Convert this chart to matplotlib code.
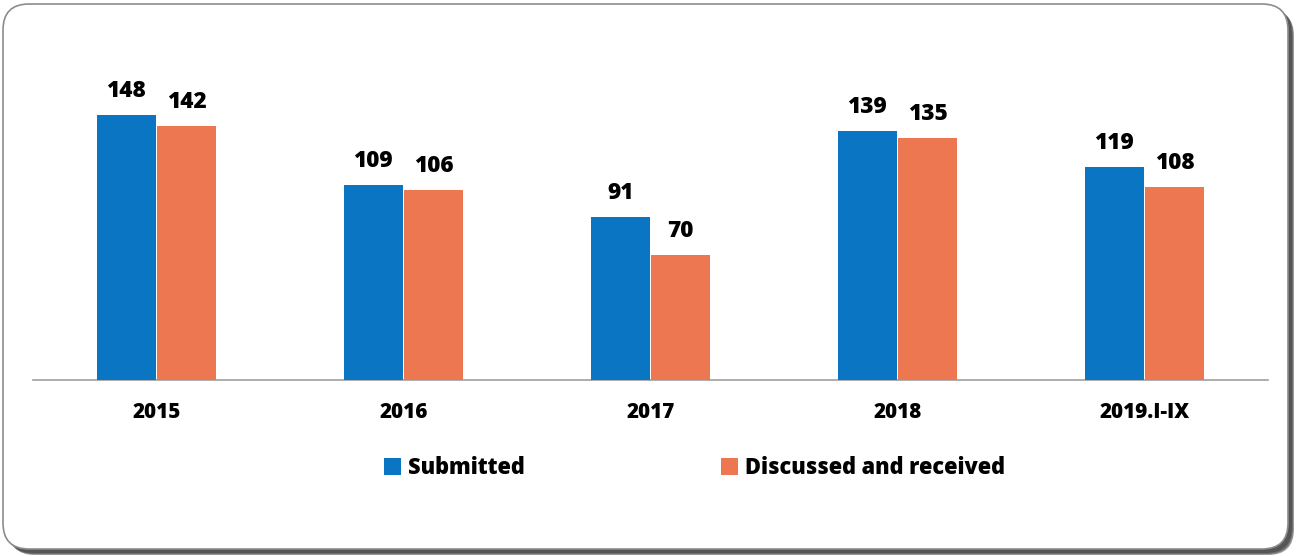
import matplotlib
matplotlib.use("Agg")
import matplotlib.pyplot as plt
import numpy as np
from matplotlib.patches import FancyBboxPatch

categories = ["2015", "2016", "2017", "2018", "2019.I-IX"]
submitted = [148, 109, 91, 139, 119]
discussed = [142, 106, 70, 135, 108]
series_names = ["Submitted", "Discussed and received"]
colors = ["#0A75C2", "#EC7750"]

plt.rcParams['font.family'] = ['Open Sans', 'DejaVu Sans']
W, H = 1296, 556
fig = plt.figure(figsize=(W / 100, H / 100), dpi=100)


def px(v):
    return v / 100.0


# frame with shadow (inch coordinates)
for off, col in [(6, "#9a9a9a"), (5, "#6e6e6e"), (4, "#555555")]:
    sh = FancyBboxPatch((px(3 + off), px(556 - 549 - off)), px(1285), px(545),
                        boxstyle=f"round,pad=0,rounding_size={px(26)}",
                        transform=fig.dpi_scale_trans, facecolor=col,
                        edgecolor="none", zorder=0)
    fig.patches.append(sh)
frame = FancyBboxPatch((px(3), px(556 - 549)), px(1285), px(545),
                       boxstyle=f"round,pad=0,rounding_size={px(26)}",
                       transform=fig.dpi_scale_trans, facecolor="white",
                       edgecolor="#8c8c8c", linewidth=1.2, zorder=1)
fig.patches.append(frame)

ax_left, ax_right = 33, 1268
ax_bottom, ax_top = 380, 30
ax = fig.add_axes([ax_left / W, (H - ax_bottom) / H, (ax_right - ax_left) / W,
                   (ax_bottom - ax_top) / H])
ax.set_facecolor("none")
ax.set_zorder(2)

x = np.arange(len(categories))
bw = 0.24
b1 = ax.bar(x - bw / 2 - 0.002, submitted, bw, color=colors[0], label=series_names[0], zorder=3)
b2 = ax.bar(x + bw / 2 + 0.002, discussed, bw, color=colors[1], label=series_names[1], zorder=3)

for bars in (b1, b2):
    for r in bars:
        ax.annotate(f"{int(r.get_height())}", (r.get_x() + r.get_width() / 2, r.get_height()),
                    xytext=(0, 8.5), textcoords="offset points", ha="center", va="bottom",
                    fontsize=16.3, fontweight="heavy", color="black")

ax.set_xlim(-0.5, len(categories) - 0.5)
ax.set_ylim(0, 350 / 1.7905)
ax.set_xticks(x)
ax.set_xticklabels(categories, fontsize=14.9, fontweight="heavy")
ax.tick_params(axis="x", length=0, pad=16)
ax.set_yticks([])
for s in ["top", "right", "left"]:
    ax.spines[s].set_visible(False)
ax.spines["bottom"].set_color("#a0a0a0")
ax.spines["bottom"].set_linewidth(1.2)

leg = fig.legend(handles=[b1, b2], labels=series_names, loc="center",
                 bbox_to_anchor=(694.5 / W, 1 - 468 / H), ncol=2, frameon=False,
                 prop={"size": 15.7, "weight": "heavy"}, handlelength=0.78, handleheight=0.78,
                 handletextpad=0.32, columnspacing=9.0)

fig.savefig("out.png", dpi=100)
